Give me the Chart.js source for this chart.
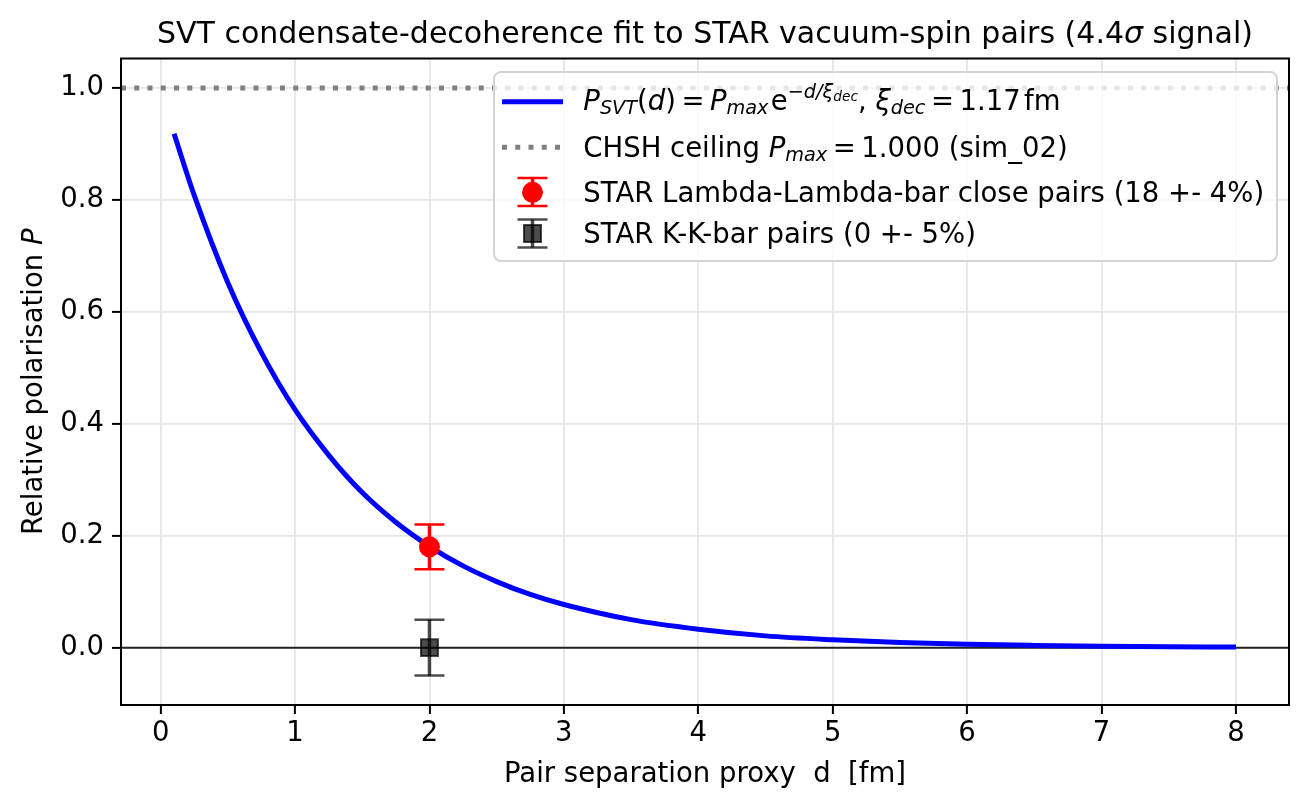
<!DOCTYPE html>
<html>
<head>
<meta charset="utf-8">
<script src="https://cdn.jsdelivr.net/npm/chart.js@4.4.0/dist/chart.umd.min.js"></script>
<style>html,body{margin:0;padding:0;background:#fff}</style>
</head>
<body>
<canvas id="chart" width="1307" height="806"></canvas>
<script>
"use strict";
// values
const curveD = [0.1, 0.25, 0.5, 0.75, 1.0, 1.25, 1.5, 1.75, 2.0, 2.25, 2.5, 2.75, 3.0, 3.5, 4.0, 4.5, 5.0, 5.5, 6.0, 6.5, 7.0, 7.5, 8.0];
const curveP = [0.918, 0.808, 0.652, 0.527, 0.425, 0.344, 0.277, 0.224, 0.181, 0.146, 0.118, 0.095, 0.077, 0.050, 0.033, 0.021, 0.014, 0.009, 0.006, 0.004, 0.0025, 0.0016, 0.001];
const lambdaD = [2.0];
const lambdaP = [0.18];
const lambdaErr = [0.04];
const kaonD = [2.0];
const kaonP = [0.0];
const kaonErr = [0.05];
const ceilingP = [1.0];
const zeroP = [0.0];
const xTicks = [0, 1, 2, 3, 4, 5, 6, 7, 8];
const yTicks = [0.0, 0.2, 0.4, 0.6, 0.8, 1.0];
const xRange = [-0.295, 8.395];
const yRange = [-0.1025, 1.0525];

const FONT = '"DejaVu Sans"';
const FS_TICK = 27.5;
const FS = 27.5;
const FS_TITLE = 30;

function rich(ctx, runs, x, y, size, measureOnly) {
	ctx.textAlign = 'left';
	ctx.textBaseline = 'alphabetic';
	let start = x;
	runs.forEach(function(r) {
		const fs = size * (r.s || 1);
		ctx.font = (r.i ? 'italic ' : '') + fs + 'px ' + FONT;
		x += (r.p || 0) * size;
		if (!measureOnly) ctx.fillText(r.t, x, y + (r.dy || 0) * size);
		x += ctx.measureText(r.t).width + (r.g || 0) * size;
	});
	return x - start;
}

const titleRuns = [{t: 'SVT condensate-decoherence fit to STAR vacuum-spin pairs (4.4'}, {t: 'σ', i: 1}, {t: ' signal)'}];
const xLabelRuns = [{t: 'Pair separation proxy  d  [fm]'}];
const yLabelRuns = [{t: 'Relative polarisation '}, {t: 'P', i: 1}];
const legendRows = [
	[{t: 'P', i: 1}, {t: 'SVT', i: 1, s: 0.7, dy: 0.15}, {t: '('}, {t: 'd', i: 1}, {t: ')'}, {t: '=', p: 0.2, g: 0.2}, {t: 'P', i: 1}, {t: 'max', i: 1, s: 0.7, dy: 0.15, g: 0.08}, {t: 'e'},
		{t: '−', s: 0.7, dy: -0.42}, {t: 'd/ξ', i: 1, s: 0.7, dy: -0.42}, {t: 'dec', i: 1, s: 0.5, dy: -0.32}, {t: ', '}, {t: 'ξ', i: 1}, {t: 'dec', i: 1, s: 0.7, dy: 0.15}, {t: '=', p: 0.2, g: 0.2}, {t: '1.17'}, {t: 'fm', p: 0.12}],
	[{t: 'CHSH ceiling '}, {t: 'P', i: 1}, {t: 'max', i: 1, s: 0.7, dy: 0.15}, {t: '=', p: 0.2, g: 0.2}, {t: '1.000 (sim_02)'}],
	[{t: 'STAR Lambda-Lambda-bar close pairs (18 +- 4%)'}],
	[{t: 'STAR K-K-bar pairs (0 +- 5%)'}]
];

function errBar(ctx, px, py0, py1, color) {
	ctx.strokeStyle = color;
	ctx.lineWidth = 3.5;
	ctx.beginPath(); ctx.moveTo(px, py0); ctx.lineTo(px, py1); ctx.stroke();
	ctx.lineWidth = 2.5;
	ctx.beginPath();
	ctx.moveTo(px - 15, py0); ctx.lineTo(px + 15, py0);
	ctx.moveTo(px - 15, py1); ctx.lineTo(px + 15, py1);
	ctx.stroke();
}

const decor = {
	id: 'decor',
	beforeDatasetsDraw(chart) {
		const ctx = chart.ctx, a = chart.chartArea, y = chart.scales.y;
		ctx.save();
		ctx.strokeStyle = 'rgba(0,0,0,0.85)';
		ctx.lineWidth = 2;
		zeroP.forEach(function(v) {
			const py = y.getPixelForValue(v);
			ctx.beginPath(); ctx.moveTo(a.left, py); ctx.lineTo(a.right, py); ctx.stroke();
		});
		ctx.strokeStyle = '#808080';
		ctx.lineWidth = 5;
		ctx.setLineDash([5, 8.25]);
		ceilingP.forEach(function(v) {
			const py = y.getPixelForValue(v);
			ctx.beginPath(); ctx.moveTo(a.left, py); ctx.lineTo(a.right, py); ctx.stroke();
		});
		ctx.restore();
	},
	afterDatasetDraw(chart, args) {
		if (args.index !== 0) return;
		const ctx = chart.ctx, x = chart.scales.x, y = chart.scales.y;
		ctx.save();
		lambdaD.forEach(function(d, i) {
			errBar(ctx, x.getPixelForValue(d), y.getPixelForValue(lambdaP[i] + lambdaErr[i]), y.getPixelForValue(lambdaP[i] - lambdaErr[i]), '#ff0000');
		});
		kaonD.forEach(function(d, i) {
			errBar(ctx, x.getPixelForValue(d), y.getPixelForValue(kaonP[i] + kaonErr[i]), y.getPixelForValue(kaonP[i] - kaonErr[i]), 'rgba(0,0,0,0.7)');
		});
		ctx.restore();
	},
	afterDraw(chart) {
		const ctx = chart.ctx, a = chart.chartArea;
		ctx.save();
		// frame
		ctx.strokeStyle = '#000';
		ctx.lineWidth = 2;
		ctx.strokeRect(a.left, a.top, a.right - a.left, a.bottom - a.top);
		ctx.fillStyle = '#000';
		const cx = (a.left + a.right) / 2;
		let w = rich(ctx, titleRuns, 0, 0, FS_TITLE, true);
		rich(ctx, titleRuns, cx - w / 2, 42.7, FS_TITLE);
		w = rich(ctx, xLabelRuns, 0, 0, FS, true);
		rich(ctx, xLabelRuns, cx - w / 2, 782, FS);
		ctx.save();
		ctx.translate(41.5, (a.top + a.bottom) / 2);
		ctx.rotate(-Math.PI / 2);
		w = rich(ctx, yLabelRuns, 0, 0, FS, true);
		rich(ctx, yLabelRuns, -w / 2, 0, FS);
		ctx.restore();

		// legend
		const L = 494, T = 72, R = 1277, B = 261;
		ctx.beginPath();
		ctx.roundRect(L, T, R - L, B - T, 7);
		ctx.fillStyle = 'rgba(255,255,255,0.8)';
		ctx.fill();
		ctx.strokeStyle = '#d4d4d4';
		ctx.lineWidth = 2;
		ctx.stroke();
		const hx0 = 502, hx1 = 563, hc = 532.5;
		ctx.lineWidth = 5;
		ctx.strokeStyle = '#0000ff';
		ctx.beginPath(); ctx.moveTo(hx0, 101.7); ctx.lineTo(hx1, 101.7); ctx.stroke();
		ctx.strokeStyle = '#808080';
		ctx.setLineDash([5, 8.25]);
		ctx.beginPath(); ctx.moveTo(hx0, 147.3); ctx.lineTo(hx1, 147.3); ctx.stroke();
		ctx.setLineDash([]);
		errBar(ctx, hc, 178, 206, '#ff0000');
		ctx.fillStyle = '#ff0000';
		ctx.beginPath(); ctx.arc(hc, 192.3, 10.5, 0, Math.PI * 2); ctx.fill();
		errBar(ctx, hc, 219.5, 247.5, 'rgba(0,0,0,0.7)');
		ctx.fillStyle = 'rgba(0,0,0,0.7)';
		ctx.strokeStyle = 'rgba(0,0,0,0.7)';
		ctx.lineWidth = 2;
		ctx.fillRect(hc - 8.5, 233.5 - 8.5, 17, 17);
		ctx.strokeRect(hc - 8.5, 233.5 - 8.5, 17, 17);
		ctx.fillStyle = '#000';
		const baselines = [110, 157.3, 201.7, 243.3];
		legendRows.forEach(function(runs, i) { rich(ctx, runs, 583.3, baselines[i], FS); });
		ctx.restore();
	}
};

const ctx = document.getElementById('chart').getContext('2d');
new Chart(ctx, {
	type: 'scatter',
	data: {
		datasets: [{
			data: curveD.map(function(d, i) { return {x: d, y: curveP[i]}; }),
			showLine: true,
			borderColor: '#0000ff',
			borderWidth: 5,
			pointRadius: 0,
			cubicInterpolationMode: 'monotone',
			order: 2
		}, {
			data: lambdaD.map(function(d, i) { return {x: d, y: lambdaP[i]}; }),
			pointStyle: 'circle',
			pointRadius: 10.5,
			backgroundColor: '#ff0000',
			borderColor: '#ff0000',
			borderWidth: 0,
			order: 1
		}, {
			data: kaonD.map(function(d, i) { return {x: d, y: kaonP[i]}; }),
			pointStyle: 'rect',
			pointRadius: 12,
			backgroundColor: 'rgba(0,0,0,0.7)',
			borderColor: 'rgba(0,0,0,0.7)',
			borderWidth: 2,
			order: 0
		}]
	},
	options: {
		responsive: false,
		animation: false,
		devicePixelRatio: 1,
		layout: {padding: {top: 58.5, right: 18, left: 0, bottom: 0}},
		plugins: {legend: {display: false}, tooltip: {enabled: false}},
		scales: {
			x: {
				type: 'linear', min: xRange[0], max: xRange[1],
				afterBuildTicks: function(s) { s.ticks = xTicks.map(function(v) { return {value: v}; }); },
				afterFit: function(s) { s.height = 101; },
				grid: {color: '#e6e6e6', lineWidth: 1.8, tickColor: '#000', tickLength: 9, tickWidth: 2},
				border: {display: false},
				ticks: {font: {family: 'DejaVu Sans', size: FS_TICK}, color: '#000', padding: 3.5, maxRotation: 0,
					callback: function(v) { return String(v); }}
			},
			y: {
				type: 'linear', min: yRange[0], max: yRange[1],
				afterBuildTicks: function(s) { s.ticks = yTicks.map(function(v) { return {value: v}; }); },
				afterFit: function(s) { s.width = 121; },
				grid: {color: '#e6e6e6', lineWidth: 1.8, tickColor: '#000', tickLength: 9, tickWidth: 2},
				border: {display: false},
				ticks: {font: {family: 'DejaVu Sans', size: FS_TICK}, color: '#000', padding: 8,
					callback: function(v) { return v.toFixed(1); }}
			}
		}
	},
	plugins: [decor]
});
</script>
</body>
</html>
